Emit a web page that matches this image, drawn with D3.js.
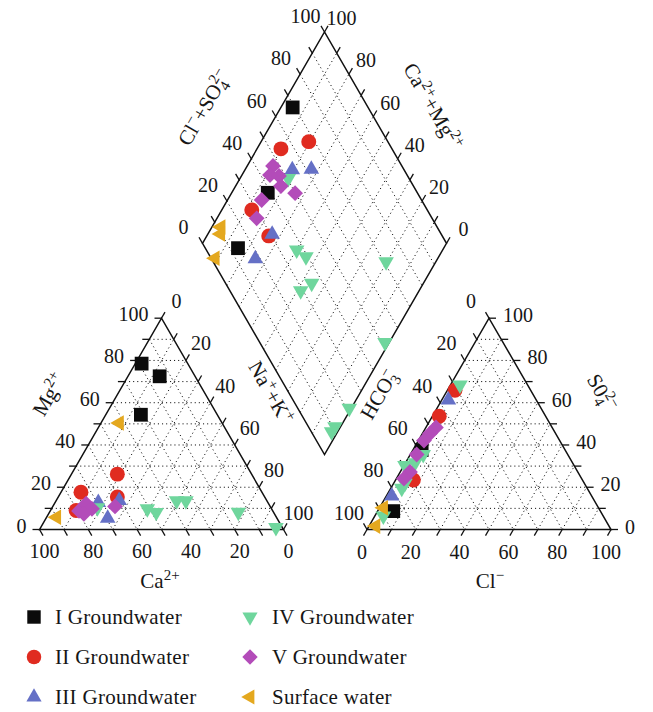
<!DOCTYPE html>
<html>
<head>
<meta charset="utf-8">
<script src="https://cdn.jsdelivr.net/npm/d3@7"></script>
<style>
  body { margin: 0; background: #fff; }
  text { font-family: "Liberation Serif", "DejaVu Serif", serif; fill: #161616; }
</style>
</head>
<body>
<svg id="chart" width="653" height="712"></svg>
<script>
// ---- data (percent of meq) ----
const groupNames = ["I Groundwater", "II Groundwater", "III Groundwater",
                    "IV Groundwater", "V Groundwater", "Surface water"];
const groupColors = ["#0b0b0b", "#e02b20", "#6570c6", "#6fd69d", "#b34cb9", "#e4a81f"];
const tickValues = [0, 10, 20, 30, 40, 50, 60, 70, 80, 90, 100];
const tickLabels = [0, 20, 40, 60, 80, 100];

// cations: [Ca2+, Mg2+, Na+ + K+]
const cationI   = [[18.9, 78.5, 2.6], [14.5, 72.5, 13.0], [31.3, 54.3, 14.4]];
const cationII  = [[55.0, 26.2, 18.8], [74.2, 17.6, 8.2], [60.4, 15.4, 24.2], [80.5, 9.0, 10.5]];
const cationIII = [[69.5, 12.8, 17.7], [60.5, 13.7, 25.8], [69.4, 5.3, 25.3]];
const cationIV  = [[50.9, 9.8, 39.3], [48.1, 8.1, 43.8], [37.0, 13.6, 49.4], [33.2, 13.6, 53.2],
                   [14.4, 8.2, 77.4], [2.6, 1.0, 96.4], [71.1, 10.3, 18.6]];
const cationV   = [[79.4, 8.8, 11.8], [74.8, 12.2, 13.0], [73.6, 9.8, 16.6], [78.1, 7.4, 14.5],
                   [63.6, 10.9, 25.5]];
const cationSW  = [[90.1, 5.8, 4.1], [42.1, 50.4, 7.5]];

// anions: [HCO3-, SO4 2-, Cl-]
const anionI   = [[58.8, 37.6, 3.6], [84.9, 8.7, 6.4]];
const anionII  = [[31.0, 65.9, 3.1], [43.6, 53.6, 2.8], [69.3, 23.4, 7.3]];
const anionIII = [[36.0, 61.3, 2.7], [81.9, 15.9, 2.2]];
const anionIV  = [[27.7, 68.4, 3.9], [59.2, 35.5, 5.3], [64.5, 31.6, 3.9], [69.3, 30.3, 0.4],
                  [73.5, 21.9, 4.6], [76.0, 19.5, 4.5], [90.1, 6.4, 3.5]];
const anionV   = [[47.6, 48.3, 4.1], [51.5, 45.4, 3.1], [55.6, 42.1, 2.3], [61.9, 35.5, 2.6],
                  [68.8, 27.2, 4.0], [72.8, 24.1, 3.1]];
const anionSW  = [[88.1, 10.3, 1.6], [95.6, 1.6, 2.8]];

// diamond: [Na+ + K+, Cl- + SO4 2-]
const diamondI   = [[4.8, 69.1], [14.8, 38.7], [15.7, 13.4]];
const diamondII  = [[9.8, 54.5], [19.5, 67.6], [12.3, 28.1], [25.4, 28.9]];
const diamondIII = [[19.4, 54.2], [27.1, 62.1], [26.4, 30.7], [25.3, 18.0]];
const diamondIV  = [[19.8, 50.5], [40.2, 37.0], [45.6, 39.2], [79.6, 70.9], [54.2, 35.3],
                    [51.5, 29.0], [98.3, 51.3], [99.2, 21.1], [97.7, 10.9], [97.5, 8.3]];
const diamondV   = [[10.6, 47.2], [11.5, 43.8], [15.4, 47.3], [18.6, 45.7], [26.1, 49.8],
                    [14.0, 34.5], [16.3, 28.1]];
const diamondSW  = [[3.7, 11.4], [5.2, 9.6], [8.7, 1.6]];

const cations  = [cationI, cationII, cationIII, cationIV, cationV, cationSW];
const anions   = [anionI, anionII, anionIII, anionIV, anionV, anionSW];
const diamonds = [diamondI, diamondII, diamondIII, diamondIV, diamondV, diamondSW];

// ---- geometry ----
const side = 244;
const height = side * Math.sqrt(3) / 2;
const baseY = 529.5;
const leftX0 = 39.5, rightX0 = 367;
const diaCx = 324.5, diaCy = 243.3;

const along = d3.scaleLinear().domain([0, 100]).range([0, side]);
const up = d3.scaleLinear().domain([0, 100]).range([0, height]);

const cationPos = (ca, mg, na) => [leftX0 + along(na) + along(mg) / 2, baseY - up(mg)];
const anionPos = (hco3, so4, cl) => [rightX0 + along(cl) + along(so4) / 2, baseY - up(so4)];
const diamondPos = (nak, clso4) => [diaCx - side / 2 + along(nak) / 2 + along(clso4) / 2,
                                     diaCy + up(nak) - up(clso4)];

const svg = d3.select("#chart");
const gGrid = svg.append("g");
const gFrame = svg.append("g");
const gText = svg.append("g");
const gMarks = svg.append("g");

const line = d3.line();
const DOT = "1.1,3";

function gridLine(a, b) {
  gGrid.append("path").attr("d", line([a, b]))
    .attr("fill", "none").attr("stroke", "#111").attr("stroke-width", 1)
    .attr("stroke-dasharray", DOT);
}
function frame(pts) {
  gFrame.append("path").attr("d", line(pts) + "Z")
    .attr("fill", "none").attr("stroke", "#111").attr("stroke-width", 1.5);
}
const TL = 7;
function tick(p, dir) {
  gFrame.append("path").attr("d", line([p, [p[0] + dir[0] * TL, p[1] + dir[1] * TL]]))
    .attr("stroke", "#111").attr("stroke-width", 1.3);
}
function label(txt, x, y, anchor) {
  gText.append("text").attr("x", x).attr("y", y).attr("dy", "0.35em")
    .attr("text-anchor", anchor || "middle").attr("font-size", 20).text(txt);
}

const inner = tickValues.filter(k => k > 0 && k < 100);
const S60 = Math.sqrt(3) / 2;

// ---- cation triangle ----
inner.forEach(k => {
  gridLine(cationPos(100 - k, k, 0), cationPos(0, k, 100 - k));
  gridLine(cationPos(100 - k, 0, k), cationPos(0, 100 - k, k));
  gridLine(cationPos(k, 100 - k, 0), cationPos(k, 0, 100 - k));
});
frame([cationPos(100, 0, 0), cationPos(0, 100, 0), cationPos(0, 0, 100)]);
tickValues.forEach(k => {
  const pCa = cationPos(k, 0, 100 - k);
  const pMg = cationPos(100 - k, k, 0);
  const pNa = cationPos(0, 100 - k, k);
  tick(pCa, [0.5, S60]);
  tick(pMg, [-1, 0]);
  tick(pNa, [0.5, -S60]);
  if (tickLabels.includes(k)) {
    label(k, pCa[0] + 5, pCa[1] + 21);
    label(k, pMg[0] - 13, pMg[1] - 4, "end");
    label(k, pNa[0] + 15, pNa[1] - 17);
  }
});

// ---- anion triangle ----
inner.forEach(k => {
  gridLine(anionPos(100 - k, k, 0), anionPos(0, k, 100 - k));
  gridLine(anionPos(100 - k, 0, k), anionPos(0, 100 - k, k));
  gridLine(anionPos(k, 100 - k, 0), anionPos(k, 0, 100 - k));
});
frame([anionPos(100, 0, 0), anionPos(0, 100, 0), anionPos(0, 0, 100)]);
tickValues.forEach(k => {
  const pCl = anionPos(100 - k, 0, k);
  const pH = anionPos(k, 100 - k, 0);
  const pS = anionPos(0, k, 100 - k);
  tick(pCl, [-0.5, S60]);
  tick(pH, [-0.5, -S60]);
  tick(pS, [1, 0]);
  if (tickLabels.includes(k)) {
    label(k, pCl[0] - 5, pCl[1] + 22);
    label(k, pH[0] - 18, pH[1] - 17);
    label(k, pS[0] + 14, pS[1] - 3, "start");
  }
});

// ---- diamond ----
inner.forEach(k => {
  gridLine(diamondPos(k, 0), diamondPos(k, 100));
  gridLine(diamondPos(0, k), diamondPos(100, k));
});
frame([diamondPos(0, 0), diamondPos(0, 100), diamondPos(100, 100), diamondPos(100, 0)]);
tickValues.forEach(k => {
  const pC = diamondPos(0, k);
  const pM = diamondPos(100 - k, 100);
  tick(pC, [-0.5, -S60]);
  tick(pM, [0.5, -S60]);
  if (tickLabels.includes(k)) {
    label(k, pC[0] - 19, pC[1] - 16);
    label(k, pM[0] + 17, pM[1] - 14);
  }
});

// ---- axis titles with super/subscripts ----
function title(parts, x, y, angle) {
  const t = gText.append("text")
    .attr("transform", `translate(${x},${y}) rotate(${angle})`)
    .attr("text-anchor", "middle").attr("font-size", 21).attr("y", 6);
  let shift = 0;
  parts.forEach(p => {
    const target = p.sup ? -8 : p.sub ? 5 : p.supOver ? -8 : 0;
    const s = t.append("tspan").attr("dy", target - shift).text(p.t);
    if (p.sup || p.sub || p.supOver) s.attr("font-size", 15);
    if (p.supOver) s.attr("dx", -7);
    shift = target;
  });
}
title([{t: "Mg"}, {t: "2+", sup: true}], 50, 395, -60);
title([{t: "Na"}, {t: "+", sup: true}, {t: "+K"}, {t: "+", sup: true}], 270, 393, 60);
title([{t: "Ca"}, {t: "2+", sup: true}], 160, 582, 0);
title([{t: "HCO"}, {t: "3", sub: true}, {t: "\u2212", supOver: true}], 380, 395, -60);
title([{t: "S0"}, {t: "4", sub: true}, {t: "2\u2212", supOver: true}], 601, 393, 60);
title([{t: "Cl"}, {t: "\u2212", sup: true}], 490, 582, 0);
title([{t: "Cl"}, {t: "\u2212", sup: true}, {t: "+SO"}, {t: "4", sub: true}, {t: "2\u2212", supOver: true}], 205, 108, -60);
title([{t: "Ca"}, {t: "2+", sup: true}, {t: "+Mg"}, {t: "2+", sup: true}], 432, 107, 60);

// ---- markers ----
function markerPath(i, scale) {
  const s = scale || 1;
  switch (i) {
    case 0: return {d: d3.symbol(d3.symbolSquare, 190 * s)(), rot: 0};
    case 1: return {d: d3.symbol(d3.symbolCircle, 175 * s)(), rot: 0};
    case 2: return {d: d3.symbol(d3.symbolTriangle, 105 * s)(), rot: 0};
    case 3: return {d: d3.symbol(d3.symbolTriangle, 105 * s)(), rot: 180};
    case 4: return {d: d3.symbol(d3.symbolSquare, 125 * s)(), rot: 45};
    default: return {d: d3.symbol(d3.symbolTriangle, 105 * s)(), rot: -90};
  }
}
function drawMarks(points, i) {
  const m = markerPath(i);
  gMarks.append("g").selectAll("path").data(points).join("path")
    .attr("d", m.d)
    .attr("transform", p => `translate(${p[0]},${p[1]}) rotate(${m.rot})`)
    .attr("fill", groupColors[i]);
}
groupNames.forEach((name, i) => {
  drawMarks(cations[i].map(d => cationPos(d[0], d[1], d[2])), i);
  drawMarks(anions[i].map(d => anionPos(d[0], d[1], d[2])), i);
  drawMarks(diamonds[i].map(d => diamondPos(d[0], d[1])), i);
});

// ---- legend ----
const legendX = [34, 250], legendTextX = [55, 272];
const legendY = [617, 657, 697];
groupNames.forEach((name, i) => {
  const col = Math.floor(i / 3), row = i % 3;
  const m = markerPath(i, 0.95);
  const g = svg.append("g");
  g.append("path").attr("d", m.d)
    .attr("transform", `translate(${legendX[col]},${legendY[row]}) rotate(${m.rot})`)
    .attr("fill", groupColors[i]);
  g.append("text").attr("x", legendTextX[col]).attr("y", legendY[row]).attr("dy", "0.35em")
    .attr("font-size", 21).attr("letter-spacing", 0.3).text(name);
});
</script>
</body>
</html>
